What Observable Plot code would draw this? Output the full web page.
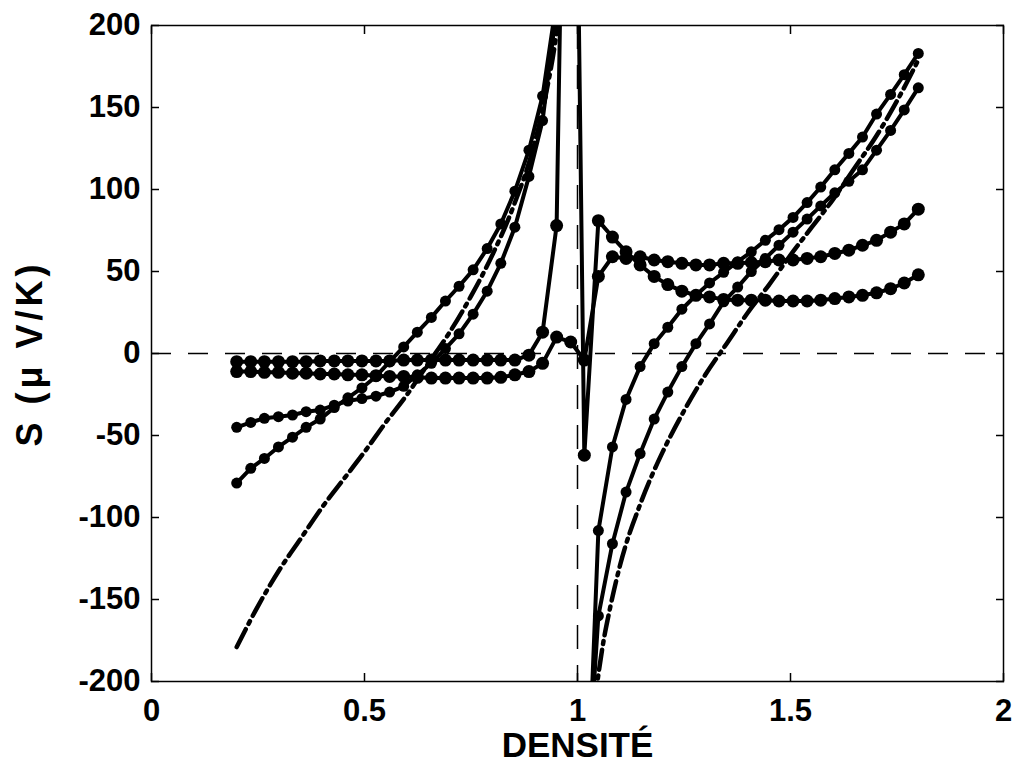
<!DOCTYPE html>
<html><head><meta charset="utf-8">
<script src="https://cdn.jsdelivr.net/npm/d3@7"></script>
<script src="https://cdn.jsdelivr.net/npm/@observablehq/plot@0.6"></script>
<style>body{margin:0;background:#fff;} svg{display:block;}</style>
</head><body><div id="chart"></div>
<script>
// Shared density grid of the computed series
const density = [0.200,0.233,0.265,0.298,0.331,0.363,0.396,0.429,0.461,0.494,
  0.527,0.559,0.592,0.624,0.657,0.690,0.722,0.755,0.788,0.820,
  0.853,0.886,0.918,0.951,0.984,1.016,1.049,1.082,1.114,1.147,
  1.180,1.212,1.245,1.278,1.310,1.343,1.376,1.408,1.441,1.473,
  1.506,1.539,1.571,1.604,1.637,1.669,1.702,1.735,1.767,1.800];

// Series diverging at n = 1 (start -79 and -45)
const seriesA = [-79,-70,-64,-57,-51,-45,-40,-33,-27,-21,
  -14,-5,4,13,22,32,41,51,64,79,
  99,124,157,215,null,-325,-108,-57,-28,-8,
  6,16,27,35.5,43,49.5,56,62,69,75.5,
  83,92,101.5,112,122,132,146,158,170,183];
const seriesB = [-45,-42,-39.5,-38.5,-37.5,-35.5,-34.5,-31.5,-29,-27.5,
  -26,-23.5,-20,-13,-6,3,12,24,38,55,
  77,108,142,210,null,-292,-160,-116,-84.5,-61,
  -40,-23.5,-8,6,18,31.5,40.5,50,58,66,
  74,82,90,98,105,112,124,136,148.5,162];
// Series staying small below n = 1 (end 88 and 48)
const seriesC = [-11,-11,-11.5,-11.5,-12,-12,-12.5,-12.5,-13,-13,
  -13.5,-14,-14,-14.5,-15,-15,-15,-15,-15,-14.5,
  -13,-11,-6,10,7,-4,47,59,58,59,
  57,56,55,54,54,55,55,55.5,56,57,
  57,58,59,61,63,66,69,74,79,88];
const seriesD = [-5,-5,-5,-5,-5,-5,-4.5,-4.5,-4.5,-4.5,
  -4.5,-4.5,-4,-4,-4,-4,-4,-4,-4,-4,
  -4,-1,13,78,600,-62,81,71,62,54,
  47,42,38,35.5,34.5,33,32.5,32.5,32.5,32,
  32,32,32.5,33.5,34.5,35.5,37,39.5,43,48];

// Dash-dot reference curve, two branches
const theoryLeftX = [0.2,0.25,0.3,0.35,0.4,0.45,0.5,0.55,0.6,0.65,0.7,0.75,0.8,0.85,0.9,0.925,0.95,0.96];
const theoryLeftY = [-179,-154,-132,-113,-94,-77,-60,-42,-25,-6,13,35,60,90,129,157,194,214];
const theoryRightX = [1.04,1.05,1.06,1.075,1.1,1.15,1.2,1.25,1.3,1.35,1.4,1.45,1.5,1.55,1.6,1.65,1.7,1.75,1.8];
const theoryRightY = [-214,-194,-177,-157,-129,-90,-60,-35,-13,6,25,42,60,77,94,113,132,154,179];

const xTicks = [0, 0.5, 1, 1.5, 2];
const yTicks = [-200, -150, -100, -50, 0, 50, 100, 150, 200];
const xLabel = "DENSITÉ";
const yLabel = "S (μ V/K)";

const measured = [];
[["A", seriesA], ["B", seriesB], ["C", seriesC], ["D", seriesD]].forEach(([name, ys]) =>
  ys.forEach((y, i) => measured.push({series: name, x: density[i], y})));
const theory = [];
theoryLeftX.forEach((x, i) => theory.push({part: "left", x, y: theoryLeftY[i]}));
theoryRightX.forEach((x, i) => theory.push({part: "right", x, y: theoryRightY[i]}));

const font = "'Liberation Sans', Arial, Helvetica, sans-serif";
const chart = Plot.plot({
  width: 1015, height: 764,
  marginLeft: 151, marginRight: 12, marginTop: 25, marginBottom: 83,
  style: {fontFamily: font, background: "white", color: "black"},
  x: {domain: [0, 2]},
  y: {domain: [-200, 200]},
  marks: [
    Plot.ruleY([0], {stroke: "black", strokeWidth: 1.5, strokeDasharray: "20,17"}),
    Plot.ruleX([1], {stroke: "black", strokeWidth: 1.5, strokeDasharray: "24,16"}),
    Plot.line(theory, {x: "x", y: "y", z: "part", stroke: "black", strokeWidth: 4.5,
      strokeDasharray: "20,6,3,6", curve: "monotone-x", clip: true}),
    Plot.line(measured, {x: "x", y: "y", z: "series", stroke: "black", strokeWidth: 4, clip: true}),
    Plot.dot(measured.filter(d => d.series === "A" || d.series === "B"), {x: "x", y: "y", r: 5.5, fill: "black", clip: true}),
    Plot.dot(measured.filter(d => d.series === "C" || d.series === "D"), {x: "x", y: "y", r: 6.5, fill: "black", clip: true}),
    Plot.frame({stroke: "black", strokeWidth: 1.5}),
    Plot.axisX(xTicks, {anchor: "bottom", tickSize: -8, tickPadding: 25, tickFormat: d => String(d),
      fontSize: 31, fontWeight: "bold", label: null, strokeWidth: 1.5}),
    Plot.axisX(xTicks, {anchor: "top", tickSize: -8, tickFormat: () => "", label: null, strokeWidth: 1.5}),
    Plot.axisY(yTicks, {anchor: "left", tickSize: -8, tickPadding: 19, tickFormat: d => String(d),
      fontSize: 31, fontWeight: "bold", label: null, strokeWidth: 1.5}),
    Plot.axisY(yTicks, {anchor: "right", tickSize: -8, tickFormat: () => "", label: null, strokeWidth: 1.5}),
    Plot.text([xLabel], {text: d => d, frameAnchor: "bottom", lineAnchor: "bottom", dy: 75,
      fontSize: 35, fontWeight: "bold", fill: "black"}),
    Plot.text([yLabel], {text: d => d, frameAnchor: "left", textAnchor: "middle", lineAnchor: "middle",
      rotate: -90, dx: -121, fontSize: 36, fontWeight: "bold", fill: "black"})
  ]
});
d3.select(chart).selectAll("text").filter(function() { return this.textContent === yLabel; })
  .style("letter-spacing", "4px");
document.getElementById("chart").appendChild(chart);
</script>
</body></html>
